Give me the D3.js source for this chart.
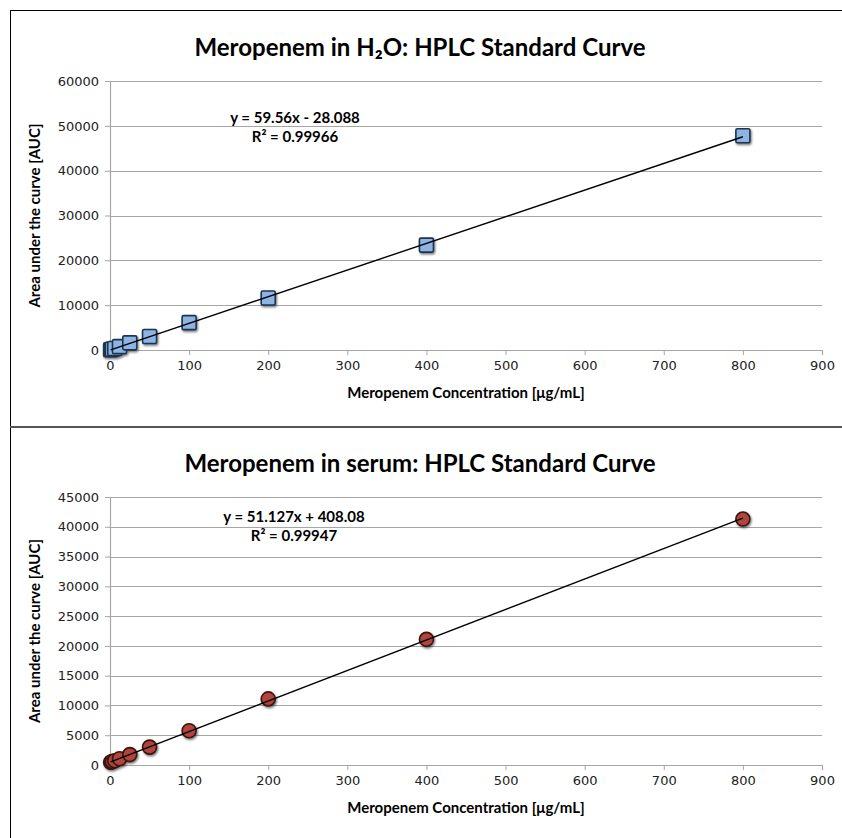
<!DOCTYPE html>
<html>
<head>
<meta charset="utf-8">
<script src="https://cdn.jsdelivr.net/npm/d3@7"></script>
<style>
  body { margin: 0; background: #fff; }
  svg { display: block; }
  .title { font-family: Lato, "Open Sans", sans-serif; font-weight: bold; font-size: 24px; }
  .axisTitle { font-family: Lato, "Open Sans", sans-serif; font-weight: bold; font-size: 15px; }
  .eq { font-family: Lato, "Open Sans", sans-serif; font-weight: bold; font-size: 15px; }
  .tick text { font-family: "DejaVu Sans", Verdana, sans-serif; font-size: 13px; fill: #222; }
</style>
</head>
<body>
<div class="container"></div>
<script>
// concentration values (x) and AUC (y)
var waterConc = [0.8, 1.6, 3, 6, 12, 25, 50, 100, 200, 400, 800];
var waterAUC  = [40, 100, 180, 350, 750, 1600, 3000, 6100, 11600, 23400, 47800];

var serumConc = [0.8, 1.6, 3, 6, 12, 25, 50, 100, 200, 400, 800];
var serumAUC  = [460, 500, 580, 720, 1050, 1750, 3000, 5750, 11100, 21100, 41300];

var xTicks = [0, 100, 200, 300, 400, 500, 600, 700, 800, 900];
var yTicksWater = [0, 10000, 20000, 30000, 40000, 50000, 60000];
var yTicksSerum = [0, 5000, 10000, 15000, 20000, 25000, 30000, 35000, 40000, 45000];

const width = 842, height = 838;

const svg = d3.select(".container")
              .append("svg")
              .attr("width", width)
              .attr("height", height);

// drop shadow for the markers
var defs = svg.append("defs");
var filter = defs.append("filter")
                 .attr("id", "shadow")
                 .attr("x", "-50%").attr("y", "-50%")
                 .attr("width", "200%").attr("height", "200%");
filter.append("feDropShadow")
      .attr("dx", 1).attr("dy", 1.5)
      .attr("stdDeviation", 1.3)
      .attr("flood-color", "#000")
      .attr("flood-opacity", 0.55);

// chart boxes
svg.append("rect")
   .attr("x", 10.5).attr("y", 10.5)
   .attr("width", 900).attr("height", 416)
   .attr("fill", "none").attr("stroke", "#000").attr("stroke-width", 1);
svg.append("rect")
   .attr("x", 10.5).attr("y", 427)
   .attr("width", 900).attr("height", 500)
   .attr("fill", "none").attr("stroke", "#000").attr("stroke-width", 1);
svg.append("line")
   .attr("x1", 10).attr("x2", width)
   .attr("y1", 427).attr("y2", 427)
   .attr("stroke", "#555").attr("stroke-width", 2);

// least squares line through the points (like the excel trendline)
function fitLine(xs, ys) {
    var mx = d3.mean(xs), my = d3.mean(ys);
    var sxy = 0, sxx = 0;
    for (var i = 0; i < xs.length; i++) {
        sxy += (xs[i] - mx) * (ys[i] - my);
        sxx += (xs[i] - mx) * (xs[i] - mx);
    }
    var slope = sxy / sxx;
    return {slope: slope, intercept: my - slope * mx};
}

// draws one standard curve chart
function standardCurve(opts) {
    var g = svg.append("g");

    var xScale = d3.scaleLinear()
                   .domain([0, 900])
                   .range([opts.left, opts.right]);

    var yScale = d3.scaleLinear()
                   .domain([0, d3.max(opts.yTicks)])
                   .range([opts.bottom, opts.top]);

    // gridlines
    g.append("g")
     .selectAll("line")
     .data(opts.yTicks.slice(1))
     .enter().append("line")
     .attr("x1", opts.left).attr("x2", opts.right)
     .attr("y1", d => Math.round(yScale(d)) + 0.5)
     .attr("y2", d => Math.round(yScale(d)) + 0.5)
     .attr("stroke", "#a6a6a6")
     .attr("stroke-width", 1.2);

    // y axis
    var yAxis = d3.axisLeft(yScale)
                  .tickValues(opts.yTicks)
                  .tickSize(5)
                  .tickPadding(6)
                  .tickFormat(d3.format("d"));
    var ya = g.append("g")
              .attr("transform", "translate(" + opts.left + ",0)")
              .call(yAxis);
    ya.select(".domain").attr("stroke", "#a6a6a6").attr("stroke-width", 1.2);
    ya.selectAll(".tick line").attr("stroke", "#a6a6a6");

    // x axis
    var xAxis = d3.axisBottom(xScale)
                  .tickValues(xTicks)
                  .tickSize(5)
                  .tickPadding(6)
                  .tickFormat(d3.format("d"));
    var xa = g.append("g")
              .attr("transform", "translate(0," + opts.bottom + ")")
              .call(xAxis);
    xa.select(".domain").attr("stroke", "#a6a6a6").attr("stroke-width", 1.2);
    xa.selectAll(".tick line").attr("stroke", "#a6a6a6");

    // markers
    var pts = opts.xs.map((x, i) => ({x: x, y: opts.ys[i]}));
    var marks = g.append("g").attr("filter", "url(#shadow)");
    if (opts.shape == "square") {
        marks.selectAll("rect")
             .data(pts)
             .enter().append("rect")
             .attr("x", d => xScale(d.x) - 7)
             .attr("y", d => yScale(d.y) - 7)
             .attr("width", 14).attr("height", 14)
             .attr("rx", 1.5)
             .attr("fill", opts.fill)
             .attr("stroke", opts.stroke)
             .attr("stroke-width", 1.6);
    } else {
        marks.selectAll("circle")
             .data(pts)
             .enter().append("circle")
             .attr("cx", d => xScale(d.x))
             .attr("cy", d => yScale(d.y))
             .attr("r", 7)
             .attr("fill", opts.fill)
             .attr("stroke", opts.stroke)
             .attr("stroke-width", 1.6);
    }

    // trend line, drawn over the points like in the original
    var fit = fitLine(opts.xs, opts.ys);
    var x0 = d3.min(opts.xs), x1 = d3.max(opts.xs);
    g.append("line")
     .attr("x1", xScale(x0)).attr("y1", yScale(fit.slope * x0 + fit.intercept))
     .attr("x2", xScale(x1)).attr("y2", yScale(fit.slope * x1 + fit.intercept))
     .attr("stroke", "#000")
     .attr("stroke-width", 1.4);

    // title
    g.append("text")
     .attr("class", "title")
     .attr("x", opts.titleX).attr("y", opts.titleY)
     .attr("text-anchor", "middle")
     .text(opts.title);

    // axis titles
    g.append("text")
     .attr("class", "axisTitle")
     .attr("x", 466)
     .attr("y", opts.bottom + 48)
     .attr("text-anchor", "middle")
     .text("Meropenem Concentration [μg/mL]");

    g.append("text")
     .attr("class", "axisTitle")
     .attr("transform", "translate(40," + ((opts.top + opts.bottom) / 2) + ") rotate(-90)")
     .attr("text-anchor", "middle")
     .text("Area under the curve [AUC]");

    // equation
    g.append("text")
     .attr("class", "eq")
     .attr("x", opts.eqX).attr("y", opts.eqY)
     .attr("text-anchor", "middle")
     .text(opts.eq);
    g.append("text")
     .attr("class", "eq")
     .attr("x", opts.eqX).attr("y", opts.eqY + 19)
     .attr("text-anchor", "middle")
     .text(opts.r2);
}

standardCurve({
    xs: waterConc, ys: waterAUC, yTicks: yTicksWater,
    left: 110, right: 822, top: 81, bottom: 350,
    shape: "square", fill: "#8db4e2", stroke: "#1f3550",
    title: "Meropenem in H\u2082O: HPLC Standard Curve", titleX: 420, titleY: 56,
    eq: "y = 59.56x - 28.088", r2: "R\u00b2 = 0.99966", eqX: 295, eqY: 123
});

standardCurve({
    xs: serumConc, ys: serumAUC, yTicks: yTicksSerum,
    left: 110, right: 822, top: 497, bottom: 765,
    shape: "circle", fill: "#b0443c", stroke: "#3a1410",
    title: "Meropenem in serum: HPLC Standard Curve", titleX: 420, titleY: 472,
    eq: "y = 51.127x + 408.08", r2: "R\u00b2 = 0.99947", eqX: 294, eqY: 522
});
</script>
</body>
</html>
